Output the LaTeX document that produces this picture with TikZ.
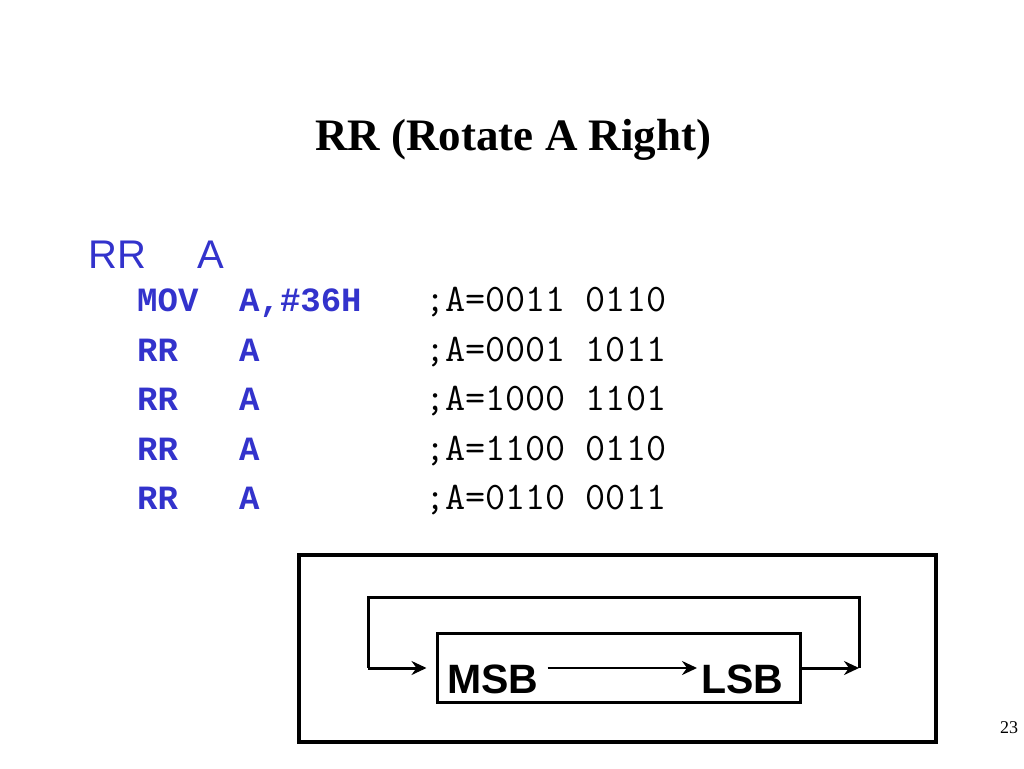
\documentclass[tikz,border=0pt]{standalone}
\usepackage{fontspec}
\setmainfont{Liberation Serif}
\newfontfamily\arialf{Liberation Sans}
\newfontfamily\courf{Liberation Mono}
\usetikzlibrary{arrows.meta}
\definecolor{codeblue}{RGB}{51,51,204}
\tikzset{
  txt/.style={anchor=base west, inner sep=0pt},
  title/.style={txt, font=\fontsize{45}{54}\selectfont\bfseries},
  big/.style={txt, font=\arialf\fontsize{40}{48}\selectfont, text=codeblue},
  code/.style={txt, font=\courf\fontsize{34}{40}\selectfont\bfseries, text=codeblue},
  cmt/.style={txt, font=\ttfamily\fontsize{39}{46}\selectfont, text=black},
  bitlbl/.style={txt, font=\arialf\fontsize{41}{48}\selectfont\bfseries},
  box/.style={draw, line width=3pt, inner sep=0pt},
  wire/.style={line width=3pt, line join=miter},
  arr/.style={wire, -{Stealth[length=15pt,width=14pt,inset=5pt]}},
  pnum/.style={txt, font=\fontsize{18}{22}\selectfont}
}
\begin{document}
\begin{tikzpicture}[x=1pt,y=-1pt]
\useasboundingbox (0,0) rectangle (1024,768);
\fill[white] (0,0) rectangle (1024,768);

\node[title] (t) at (315,150) {RR (Rotate A Right)};

\node[big] (h1) at (88,268) {RR};
\node[big] (h2) at (197,268) {A};

\node[code] (m1) at (137,311) {MOV};
\node[code] (o1) at (239,311) {A,\#36H};
\node[cmt] (c1) at (425,311) {;A=0011 0110};

\node[code] (m2) at (137,361) {RR};
\node[code] (o2) at (239,361) {A};
\node[cmt] (c2) at (425,361) {;A=0001 1011};

\node[code] (m3) at (137,410) {RR};
\node[code] (o3) at (239,410) {A};
\node[cmt] (c3) at (425,410) {;A=1000 1101};

\node[code] (m4) at (137,460) {RR};
\node[code] (o4) at (239,460) {A};
\node[cmt] (c4) at (425,460) {;A=1100 0110};

\node[code] (m5) at (137,509) {RR};
\node[code] (o5) at (239,509) {A};
\node[cmt] (c5) at (425,509) {;A=0110 0011};

% outer frame
\node[box, line width=3.5pt, minimum width=637pt, minimum height=187pt] (frame) at (617.5,648.5) {};
% register box
\node[box, minimum width=363pt, minimum height=69pt] (reg) at (618.5,667.5) {};

\node[bitlbl] (msb) at (447,693) {MSB};
\node[bitlbl] (lsb) at (701,693) {LSB};

\coordinate (rin) at (859,668);
\coordinate (rt) at (859,597);
\coordinate (lt) at (368,597);
\coordinate (lout) at (368,668);

\draw[arr, line width=2.5pt, shorten <=9pt, shorten >=4pt] (msb.east |- rin) -- (lsb.west |- rin);
\draw[arr] (reg.east |- rin) -- (rin);
\draw[wire] (rin) -- (rt) -- (lt) -- (lout);
\draw[arr, shorten >=9pt] (lout) -- (reg.west |- lout);

\node[pnum] (pg) at (1000,733) {23};
\end{tikzpicture}
\end{document}
